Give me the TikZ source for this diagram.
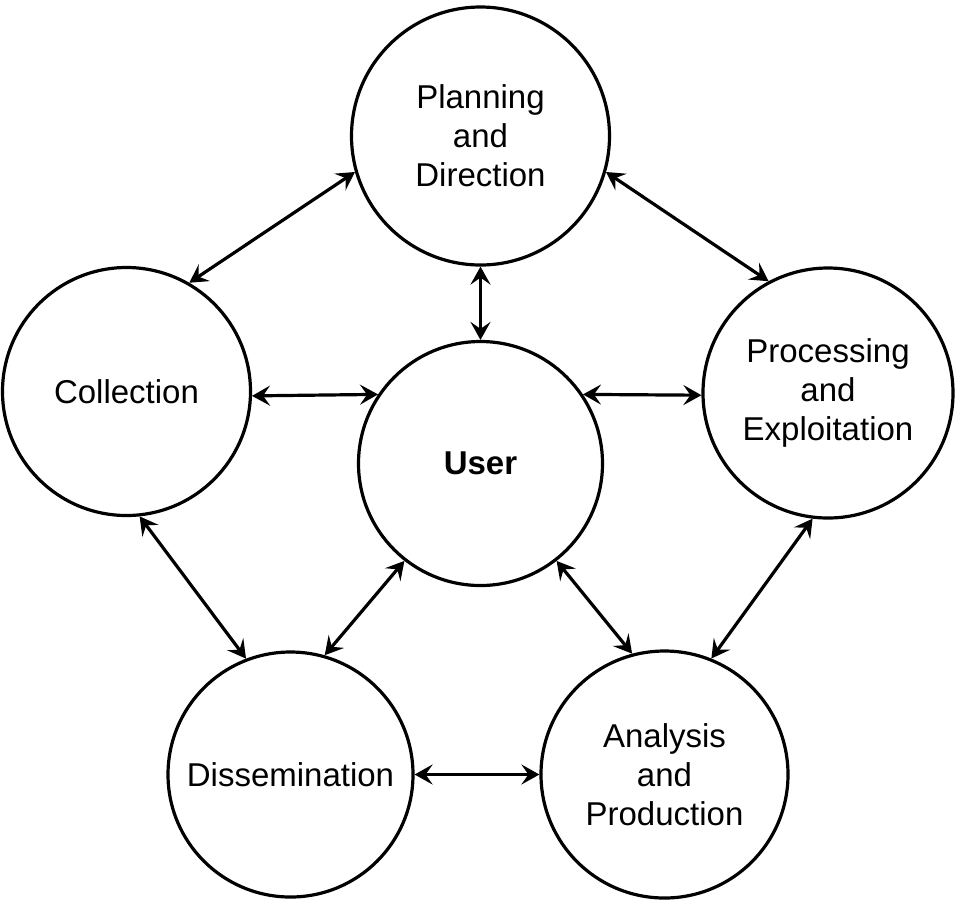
\documentclass[tikz,border=0pt]{standalone}
\usepackage{fontspec}
\setmainfont{Liberation Sans}
\usetikzlibrary{arrows.meta}
\begin{document}
\begin{tikzpicture}[x=0.5pt,y=-0.5pt,
		stage/.style={draw,circle,line width=1.6pt,inner sep=0pt,align=center,font=\fontsize{16.5}{19.5}\selectfont},
		link/.style={line width=1.6pt,{Stealth[length=9pt,width=10pt,inset=3.5pt]}-{Stealth[length=9pt,width=10pt,inset=3.5pt]}}]
				\useasboundingbox (0,0) rectangle (958,901);
				\node[stage,minimum size=129pt] (plan) at (480.5,136) {Planning\\and\\Direction};
				\node[stage,minimum size=124pt] (coll) at (126.5,391.5) {Collection};
				\node[stage,minimum size=122pt] (user) at (480.5,463.5) {\bfseries User};
				\node[stage,minimum size=125pt] (proc) at (828,393) {Processing\\and\\Exploitation};
				\node[stage,minimum size=122.5pt] (diss) at (290.5,774.5) {Dissemination};
				\node[stage,minimum size=123.5pt] (anal) at (664.5,774.5) {Analysis\\and\\Production};
				%outer ring
				\draw [link] (plan.196) -- (coll.60);
				\draw [link] (plan.344) -- (proc.118);
				\draw [link] (coll.276) -- (diss.111);
				\draw [link] (proc.263) -- (anal.68);
				\draw [link] (diss.0) -- (anal.180);
				%spokes to the user
				\draw [link] (plan.270) -- (user.90);
				\draw [link] (coll.358) -- (user.146);
				\draw [link] (user.34) -- (proc.181);
				\draw [link] (user.232) -- (diss.74);
				\draw [link] (user.308) -- (anal.105);
			\end{tikzpicture}
\end{document}
